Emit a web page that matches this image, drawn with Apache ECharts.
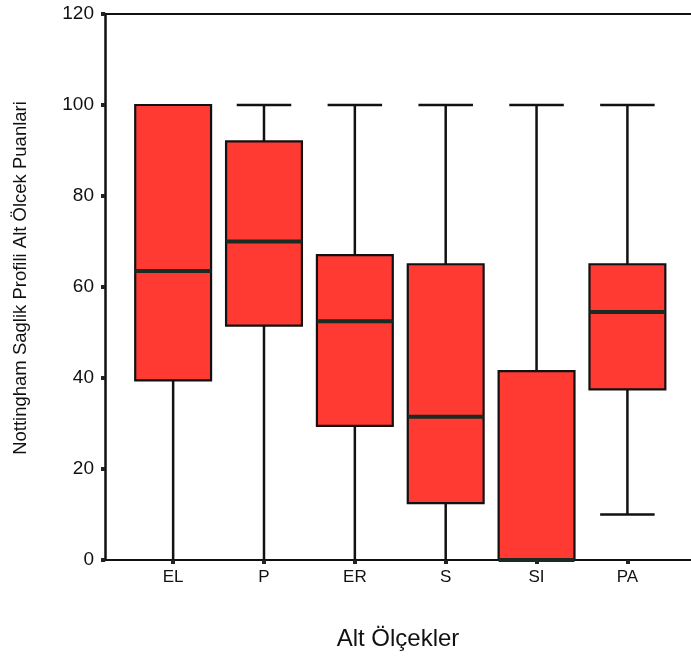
<!DOCTYPE html>
<html>
<head>
<meta charset="utf-8">
<script src="https://cdn.jsdelivr.net/npm/echarts@6/dist/echarts.min.js"></script>
<style>
html,body{margin:0;padding:0;background:#fff;}
#chart{width:691px;height:664px;}
</style>
</head>
<body>
<div id="chart"></div>
<script>
const categories = ['EL', 'P', 'ER', 'S', 'SI', 'PA'];
const mins    = [0, 0, 0, 0, 0, 10];
const q1s     = [39.5, 51.5, 29.5, 12.5, 0, 37.5];
const medians = [63.5, 70, 52.5, 31.5, 0, 54.5];
const q3s     = [100, 92, 67, 65, 41.5, 65];
const maxs    = [100, 100, 100, 100, 100, 100];
const yTicks  = [0, 20, 40, 60, 80, 100, 120];

const positions = categories.map((c, i) => i + 1);
const data = categories.map((c, i) => [positions[i], mins[i], q1s[i], medians[i], q3s[i], maxs[i]]);

const FONT = '"Liberation Sans", Arial, sans-serif';
const chart = echarts.init(document.getElementById('chart'), null, {renderer: 'canvas'});

function renderItem(params, api) {
  const x = api.value(0);
  const vMin = api.value(1), vQ1 = api.value(2), vMed = api.value(3), vQ3 = api.value(4), vMax = api.value(5);
  const boxW = api.size([0.835, 0])[0];
  const capW = api.size([0.6, 0])[0];
  const c = api.coord([x, 0])[0];
  const yMin = api.coord([x, vMin])[1];
  const yQ1 = api.coord([x, vQ1])[1];
  const yMed = api.coord([x, vMed])[1];
  const yQ3 = api.coord([x, vQ3])[1];
  const yMax = api.coord([x, vMax])[1];
  const lineStyle = {stroke: '#111', lineWidth: 2.5};
  const children = [
    {type: 'line', shape: {x1: c, y1: yQ1, x2: c, y2: yMin}, style: lineStyle},
    {type: 'line', shape: {x1: c, y1: yQ3, x2: c, y2: yMax}, style: lineStyle}
  ];
  if (vMin > 0) children.push({type: 'line', shape: {x1: c - capW / 2, y1: yMin, x2: c + capW / 2, y2: yMin}, style: lineStyle});
  if (vMax > vQ3) children.push({type: 'line', shape: {x1: c - capW / 2, y1: yMax, x2: c + capW / 2, y2: yMax}, style: lineStyle});
  children.push(
    {type: 'rect', shape: {x: c - boxW / 2, y: yQ3, width: boxW, height: yQ1 - yQ3},
      style: {fill: '#fe3a33', stroke: '#111', lineWidth: 2.2}},
    {type: 'line', shape: {x1: c - boxW / 2, y1: yMed, x2: c + boxW / 2, y2: yMed},
      style: {stroke: '#1c2a22', lineWidth: 4}}
  );
  return {type: 'group', children: children};
}

chart.setOption({
  animation: false,
  backgroundColor: '#fff',
  grid: {left: 105, right: 0, top: 14, bottom: 104, show: false},
  xAxis: [{
    type: 'value',
    min: 0.25,
    max: 6.70,
    name: 'Alt Ölçekler',
    nameLocation: 'middle',
    nameGap: 67,
    nameTextStyle: {fontFamily: FONT, fontSize: 24, color: '#111'},
    axisLine: {show: true, lineStyle: {color: '#111', width: 2}},
    axisTick: {show: true, customValues: positions, length: 4, lineStyle: {color: '#222', width: 4}},
    axisLabel: {customValues: positions, formatter: v => categories[Math.round(v) - 1] || '', fontFamily: FONT, fontSize: 17, color: '#111', margin: 9},
    splitLine: {show: false}
  }, {
    type: 'value',
    position: 'top',
    min: 0.25,
    max: 6.70,
    axisLine: {show: true, lineStyle: {color: '#111', width: 2}},
    axisTick: {show: false},
    axisLabel: {show: false},
    splitLine: {show: false}
  }],
  yAxis: {
    type: 'value',
    min: 0,
    max: 120,
    interval: 20,
    name: 'Nottingham Saglik Profili Alt Ölcek Puanlari',
    nameLocation: 'middle',
    nameGap: 75,
    nameTextStyle: {fontFamily: FONT, fontSize: 18.5, color: '#111', padding: [0, 0, 0, 18]},
    axisLine: {show: true, lineStyle: {color: '#111', width: 2.5}},
    axisTick: {show: true, length: 4, lineStyle: {color: '#222', width: 4}},
    axisLabel: {fontFamily: FONT, fontSize: 19, color: '#111', margin: 11, formatter: v => yTicks.includes(v) ? String(v) : ''},
    splitLine: {show: false}
  },
  series: [{
    type: 'custom',
    xAxisIndex: 0,
    renderItem: renderItem,
    encode: {x: 0, y: [1, 2, 3, 4, 5]},
    data: data,
    clip: false
  }]
});
</script>
</body>
</html>
